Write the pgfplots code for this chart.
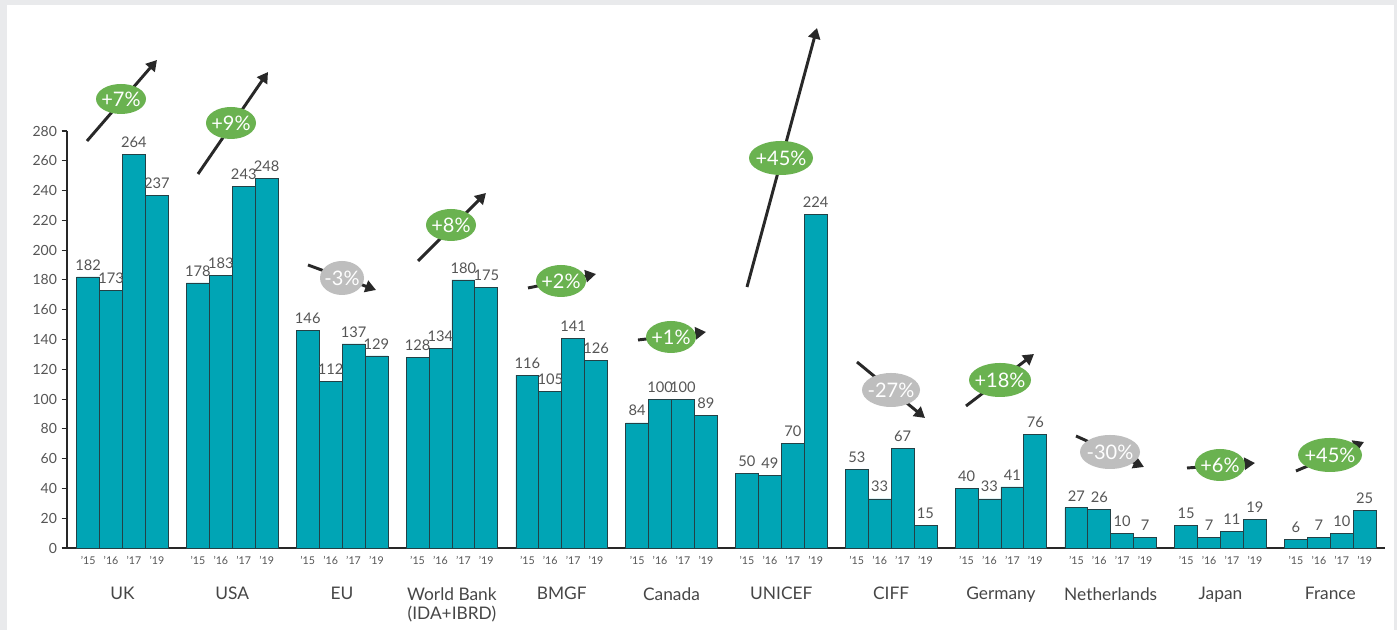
\documentclass[border=0pt]{standalone}
\usepackage{pgfplots}
\pgfplotsset{compat=1.18}
\usepackage{pgfplotstable}
\usepackage{fontspec}
\setmainfont{Lato}
\usetikzlibrary{arrows.meta}
\definecolor{teal1}{RGB}{0,165,181}
\definecolor{barline}{RGB}{35,65,70}
\definecolor{txt}{RGB}{85,85,85}
\definecolor{gtxt}{RGB}{70,70,70}
\definecolor{grn}{RGB}{106,178,80}
\definecolor{gry}{RGB}{190,190,190}
\definecolor{bg}{RGB}{233,234,236}
\definecolor{arr}{RGB}{40,40,40}

\pgfplotstableread{
x y
-0.3129 182
-0.1043 173
0.1043 264
0.3129 237
0.6871 178
0.8957 183
1.1043 243
1.3129 248
1.6871 146
1.8957 112
2.1043 137
2.3129 129
2.6871 128
2.8957 134
3.1043 180
3.3129 175
3.6871 116
3.8957 105
4.1043 141
4.3129 126
4.6871 84
4.8957 100
5.1043 100
5.3129 89
5.6871 50
5.8957 49
6.1043 70
6.3129 224
6.6871 53
6.8957 33
7.1043 67
7.3129 15
7.6871 40
7.8957 33
8.1043 41
8.3129 76
8.6871 27
8.8957 26
9.1043 10
9.3129 7
9.6871 15
9.8957 7
10.1043 11
10.3129 19
10.6871 6
10.8957 7
11.1043 10
11.3129 25
}\data

\begin{document}
\begin{tikzpicture}
\begin{scope}[x=0.75pt,y=-0.75pt,yshift=472.5pt]
\fill[bg] (0,0) rectangle (1397,630);
\fill[white] (7,5) rectangle (1394,630);
\end{scope}
\begin{axis}[
  at={(50.25pt,61.5pt)}, anchor=south west,
  scale only axis, width=988.5pt, height=312.75pt,
  xmin=-0.5055, xmax=11.498, ymin=0, ymax=280,
  axis x line*=bottom, axis y line*=left,
  axis line style={draw=arr, line width=1.2pt},
  ytick={0,20,...,280},
  tick align=outside, major tick length=4pt,
  ytick style={draw=arr, line width=0.8pt},
  yticklabel style={font=\fontsize{10.5}{12}\selectfont, text=txt},
  /pgf/number format/assume math mode=true,
  xtick=data,
  xtick style={draw=none},
  xticklabels={'15,'16,'17,'19,'15,'16,'17,'19,'15,'16,'17,'19,'15,'16,'17,'19,'15,'16,'17,'19,'15,'16,'17,'19,'15,'16,'17,'19,'15,'16,'17,'19,'15,'16,'17,'19,'15,'16,'17,'19,'15,'16,'17,'19,'15,'16,'17,'19},
  xticklabel style={font=\fontsize{8}{9}\selectfont, text=txt, yshift=1.5pt},
  extra x ticks={0,1,2,3,4,5,6,7,8,9,10,11},
  extra x tick labels={UK,USA,EU,{World Bank\\(IDA+IBRD)},BMGF,Canada,UNICEF,CIFF,Germany,Netherlands,Japan,France},
  extra x tick style={major tick length=0pt, xticklabel style={font=\fontsize{13}{14.5}\selectfont, text=gtxt, align=center, anchor=north, yshift=-27.5pt}},
  clip=false,
  ybar, bar width=0.2086,
  nodes near coords,
  nodes near coords style={font=\fontsize{11}{12}\selectfont, text=txt, yshift=1.5pt},
]
\addplot[fill=teal1, draw=barline, line width=0.5pt] table {\data};
\end{axis}
\begin{scope}[x=0.75pt,y=-0.75pt,yshift=472.5pt]
\foreach \sx/\sy/\ex/\ey/\cx/\cy/\rx/\ry/\col/\lab in {
  87/141/157/60/121/99/25/15/grn/+7\%,
  198/174/268/72/231/123/25/16/grn/+9\%,
  308/265/376/290/342/278/22/17/gry/-3\%,
  418/261/486/193/451/225/25/16/grn/+8\%,
  528/288/596/274/561/281/25/16/grn/+2\%,
  638/340/706/332/671/337/25/16/grn/+1\%,
  747/287/817/28/781/158/32/17/grn/+45\%,
  857/362/925/418/891/390/29/17/gry/-27\%,
  966/406/1034/354/1000/380/31/17/grn/+18\%,
  1076/436/1144/467/1110/452/30/17/gry/-30\%,
  1187/468/1255/463/1220/465/25/16/grn/+6\%,
  1296/471/1364/442/1330/455/32/17/grn/+45\%}
{
  \draw[arr, line width=2.2pt, -{Triangle[length=8pt,width=9pt]}] (\sx,\sy) -- (\ex,\ey);
  \fill[\col] (\cx,\cy) ellipse [x radius=\rx, y radius=\ry];
  \node[text=white, font=\fontsize{15}{16}\selectfont, inner sep=0pt] at (\cx,\cy) {\lab};
}
\end{scope}
\end{tikzpicture}
\end{document}
